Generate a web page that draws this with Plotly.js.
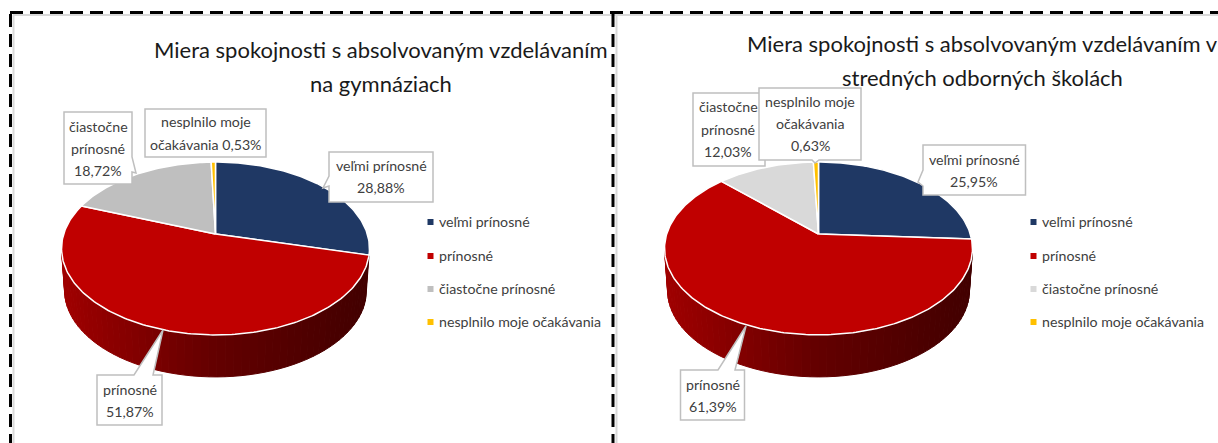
<!DOCTYPE html>
<html>
<head>
<meta charset="utf-8">
<script src="https://cdn.plot.ly/plotly-3.0.1.min.js"></script>
<style>html,body{margin:0;padding:0;background:#fff}#c{width:1218px;height:443px}</style>
</head>
<body>
<div id="c"></div>
<script>
// ---- data ----
const categories = ['veľmi prínosné', 'prínosné', 'čiastočne prínosné', 'nesplnilo moje očakávania'];
const gymnaziaValues = [28.88, 51.87, 18.72, 0.53];
const sosValues = [25.95, 61.39, 12.03, 0.63];
const gymnaziaLabels = ['28,88%', '51,87%', '18,72%', '0,53%'];
const sosLabels = ['25,95%', '61,39%', '12,03%', '0,63%'];
const gymnaziaTitle = ['Miera spokojnosti s absolvovaným vzdelávaním', 'na gymnáziach'];
const sosTitle = ['Miera spokojnosti s absolvovaným vzdelávaním v', 'stredných odborných školách'];

// ---- style ----
const FONT = 'Lato, "Liberation Sans", sans-serif';
const leftColors = ['#1f3864', '#c00000', '#bfbfbf', '#ffc000'];
const rightColors = ['#1f3864', '#c00000', '#d9d9d9', '#ffc000'];
const K = 0.1676, B = 84, A = 151.8, DEPTH = 42, SHRINK = 0.98;

function project(cx, cy, deg, base) {
  const t = deg * Math.PI / 180, X = Math.sin(t), Y = Math.cos(t), d = 1 + K * Y;
  const s = base ? SHRINK : 1;
  return [cx + s * A * X / d, cy - B * Y / d + (base ? DEPTH : 0)];
}
function lerp(a, b, f) { return a + (b - a) * f; }
function wallColor(f) {
  const stops = [[160, 0, 0], [100, 0, 0], [66, 0, 0]];
  const p = Math.max(0, Math.min(0.999, f)) * 2, i = Math.floor(p), u = p - i;
  return 'rgb(' + stops[i].map((c, k) => Math.round(lerp(c, stops[i + 1][k], u))).join(',') + ')';
}
const traces = [];
function addPie(cx, cy, values, colors) {
  const total = values.reduce((a, b) => a + b, 0);
  const edgeDeg = Math.acos(-K) * 180 / Math.PI;          // right silhouette
  let cum = 0;
  const starts = values.map(v => { const s = cum / total * 360; cum += v; return s; });
  // side wall (only the front slice is visible)
  const wStart = Math.max(starts[1], edgeDeg), wEnd = 360 - edgeDeg;
  const n = 60;
  for (let i = 0; i < n; i++) {
    const a0 = lerp(wStart, wEnd, i / n), a1 = lerp(wStart, wEnd, (i + 1) / n);
    const p = [project(cx, cy, a0), project(cx, cy, a1), project(cx, cy, a1, true), project(cx, cy, a0, true), project(cx, cy, a0)];
    const f = (p[0][0] - (cx - A * 1.015)) / (2 * A * 1.015);
    const col = wallColor(f);
    traces.push({ type: 'scatter', mode: 'lines', x: p.map(q => q[0]), y: p.map(q => q[1]), fill: 'toself',
      fillcolor: col, line: { color: col, width: 1 }, hoverinfo: 'skip', showlegend: false });
  }
  // top face
  values.forEach((v, i) => {
    const a0 = starts[i], a1 = a0 + v / total * 360;
    const xs = [cx], ys = [cy];
    const steps = Math.max(2, Math.ceil(a1 - a0));
    for (let j = 0; j <= steps; j++) {
      const q = project(cx, cy, lerp(a0, a1, j / steps));
      xs.push(q[0]); ys.push(q[1]);
    }
    xs.push(cx); ys.push(cy);
    traces.push({ type: 'scatter', mode: 'lines', x: xs, y: ys, fill: 'toself', name: categories[i],
      fillcolor: colors[i], line: { color: '#ffffff', width: 1.5 }, hoverinfo: 'name', showlegend: false });
  });
}
addPie(215.5, 234, gymnaziaValues, leftColors);
addPie(818.5, 234, sosValues, rightColors);

const annotations = [];
function txt(x, y, text, size, color, anchor) {
  annotations.push({ xref: 'x', yref: 'y', x, y, text, showarrow: false, xanchor: anchor || 'center', yanchor: 'middle',
    font: { family: FONT, size, color }, borderpad: 0 });
}
// titles
const T = 22;
txt(381, 49, gymnaziaTitle[0], T, '#1a1a1a');
txt(381, 83, gymnaziaTitle[1], T, '#1a1a1a');
txt(982, 43, sosTitle[0], T, '#1a1a1a');
txt(982, 77, sosTitle[1], T, '#1a1a1a');

// legends
const L = 14.2, C = '#404040';
const legendRows = [221, 255, 288, 321];
function addLegend(xm, colors) {
  categories.forEach((c, i) => {
    traces.push({ type: 'scatter', mode: 'markers', x: [xm], y: [legendRows[i] + 1], name: c, hoverinfo: 'name', showlegend: false,
      marker: { symbol: 'square', size: 6, color: colors[i] } });
    txt(xm + 7.5, legendRows[i], c, L, C, 'left');
  });
}
addLegend(430.5, leftColors);
addLegend(1033.5, rightColors);

// callouts: outline paths include the pointer
const boxStyle = { type: 'path', xref: 'x', yref: 'y', fillcolor: '#ffffff', line: { color: '#bfbfbf', width: 1.5 } };
const calloutPaths = [
  'M64,112 L132,112 L132,157 L136,173 L132,172 L132,184 L64,184 Z',
  'M145,109 L266,109 L266,157 L145,157 Z',
  'M329,152 L433,152 L433,202 L329,202 L329,186 L323,188 L329,176 Z',
  'M97,375 L134,375 L163,330 L153,375 L162,375 L162,425 L97,425 Z',
  'M693,93 L765,93 L765,166 L693,166 Z',
  'M759,88 L861,88 L861,160 L819,160 L815,163 L812,160 L759,160 Z',
  'M923,145 L1025.5,145 L1025.5,195 L923,195 L923,186 L918,182 L923,170 Z',
  'M680.5,370 L718,370 L746,326 L735,370 L744.5,370 L744.5,420 L680.5,420 Z'
];
const shapes = calloutPaths.map(p => Object.assign({ path: p }, boxStyle));

txt(98, 126, 'čiastočne', L, C); txt(98, 148, 'prínosné', L, C); txt(98, 170, gymnaziaLabels[2], L, C);
txt(205.5, 121, 'nesplnilo moje', L, C); txt(205.5, 144, 'očakávania ' + gymnaziaLabels[3], L, C);
txt(381, 165, categories[0], L, C); txt(381, 187, gymnaziaLabels[0], L, C);
txt(129.5, 389, categories[1], L, C); txt(129.5, 411, gymnaziaLabels[1], L, C);
txt(728, 106, 'čiastočne', L, C); txt(728, 129, 'prínosné', L, C); txt(728, 151, sosLabels[2], L, C);
txt(810, 101, 'nesplnilo moje', L, C); txt(810, 123, 'očakávania', L, C); txt(810, 145, sosLabels[3], L, C);
txt(974, 159, categories[0], L, C); txt(974, 181, sosLabels[0], L, C);
txt(712.5, 384, categories[1], L, C); txt(712.5, 406, sosLabels[1], L, C);

// frame
function line(x0, y0, x1, y1, color, width, dash) {
  return { type: 'line', xref: 'x', yref: 'y', x0, y0, x1, y1, layer: 'below', line: { color, width, dash: dash || 'solid' } };
}
const D = '13px,7px';
shapes.push(line(13, 15, 1218, 15, '#d9d9d9', 2));
shapes.push(line(13.5, 15, 13.5, 443, '#d9d9d9', 2));
shapes.push(line(616.5, 15, 616.5, 443, '#d9d9d9', 2));
shapes.push(line(10, 12.5, 1218, 12.5, '#000000', 3, D));
shapes.push(line(10.5, 14, 10.5, 443, '#000000', 3, D));
shapes.push(line(613, 14, 613, 443, '#000000', 3, D));

Plotly.newPlot('c', traces, {
  width: 1218, height: 443, margin: { l: 0, r: 0, t: 0, b: 0 },
  paper_bgcolor: '#ffffff', plot_bgcolor: '#ffffff', showlegend: false,
  xaxis: { range: [0, 1218], visible: false, fixedrange: true },
  yaxis: { range: [443, 0], visible: false, fixedrange: true },
  shapes, annotations
}, { displayModeBar: false, staticPlot: true });
</script>
</body>
</html>
